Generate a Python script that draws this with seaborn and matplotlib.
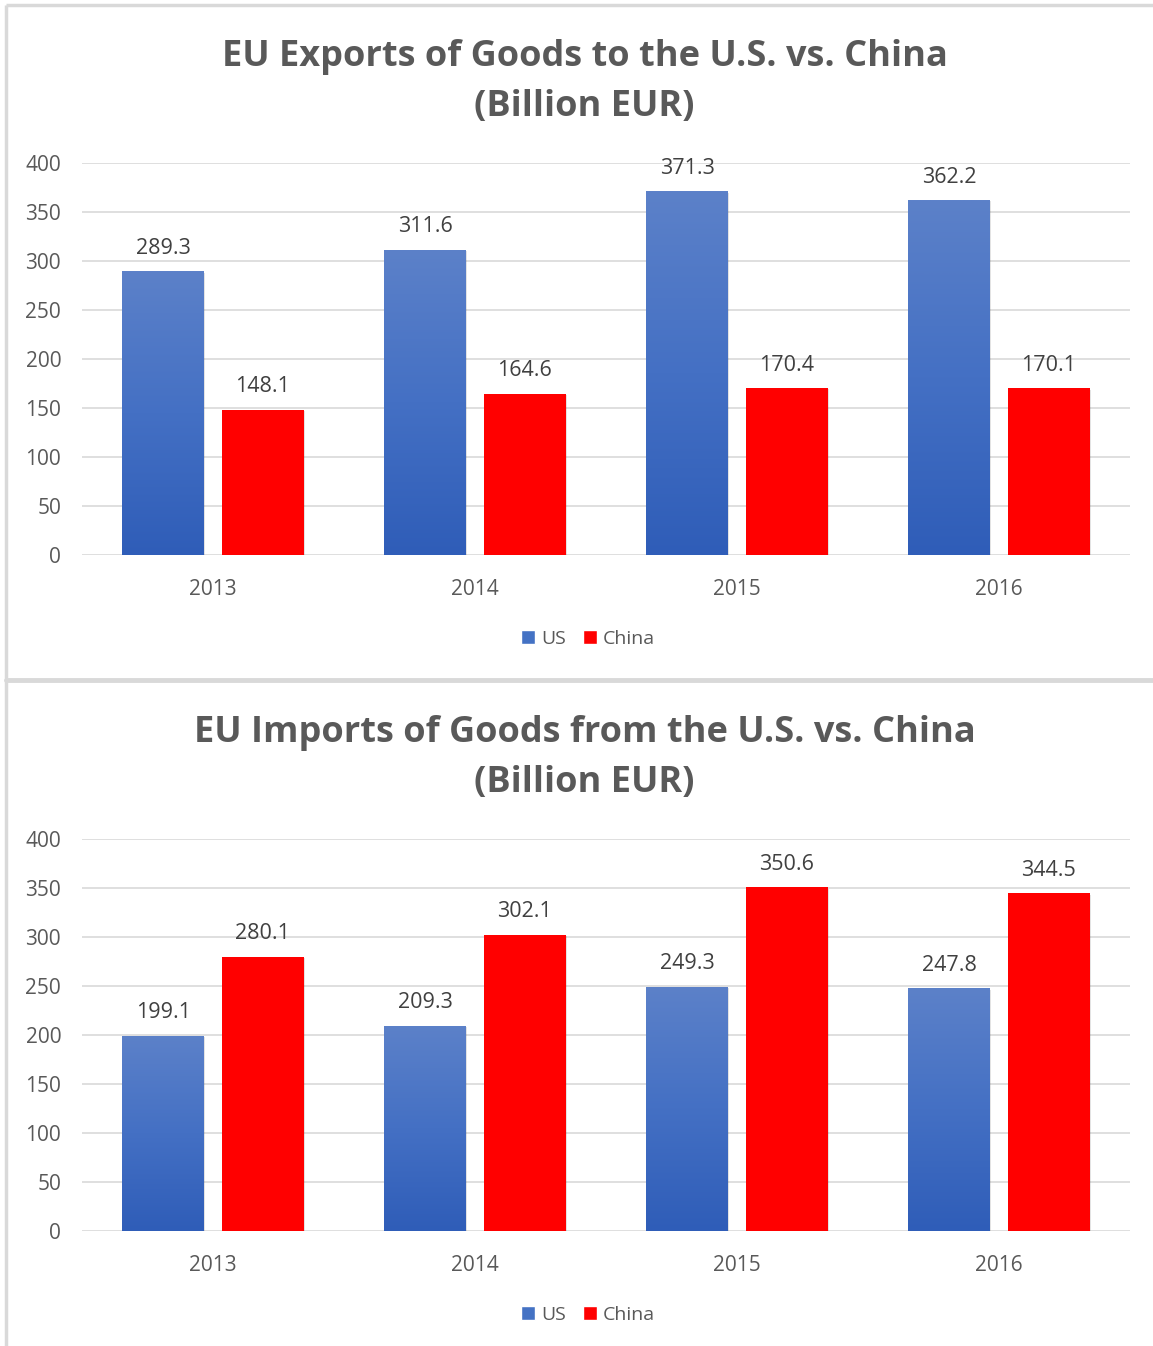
import numpy as np
import pandas as pd
import seaborn as sns
import matplotlib.pyplot as plt
from matplotlib.colors import LinearSegmentedColormap
from matplotlib.lines import Line2D
from matplotlib.patches import Patch
from matplotlib import patheffects as pe

# data
years = ["2013", "2014", "2015", "2016"]
partners = ["US", "China"]
exports_us = [289.3, 311.6, 371.3, 362.2]
exports_china = [148.1, 164.6, 170.4, 170.1]
imports_us = [199.1, 209.3, 249.3, 247.8]
imports_china = [280.1, 302.1, 350.6, 344.5]

titles = ["EU Exports of Goods to the U.S. vs. China\n(Billion EUR)",
          "EU Imports of Goods from the U.S. vs. China\n(Billion EUR)"]

US_COL = "#4472C4"
CN_COL = "#FF0000"
GRID = "#D9D9D9"
TXT = "#595959"

sns.set_theme(style="white")
plt.rcParams["font.family"] = ["Open Sans", "DejaVu Sans"]

W, H = 1153, 1346
fig = plt.figure(figsize=(W / 100, H / 100), dpi=100)

# dark at the bottom, lighter at the top
blue_grad = LinearSegmentedColormap.from_list("bl", ["#2F5DB8", "#4470C4", "#5C81C9"])


def long_frame(us, cn):
    return pd.DataFrame({
        "year": years * 2,
        "partner": ["US"] * len(years) + ["China"] * len(years),
        "value": list(us) + list(cn),
    })


def draw_panel(ax, df, title, title_y, legend_y):
    sns.barplot(data=df, x="year", y="value", hue="partner", hue_order=partners,
                palette={"US": US_COL, "China": CN_COL}, saturation=1,
                width=0.76, gap=0.18, legend=False, ax=ax, zorder=3, linewidth=0)

    shadow = [pe.SimplePatchShadow(offset=(1, -1), shadow_rgbFace="k", alpha=0.12),
              pe.Normal()]
    grad = np.linspace(0, 1, 256).reshape(-1, 1)
    for bar in ax.containers[0]:
        x0, w, h = bar.get_x(), bar.get_width(), bar.get_height()
        bar.set_path_effects(shadow)
        bar.set_facecolor("none")
        bar.set_linewidth(0)
        im = ax.imshow(grad, extent=[x0, x0 + w, 0, h], origin="lower",
                       aspect="auto", cmap=blue_grad, zorder=3.5)
        im.set_clip_path(bar)
    for bar in ax.containers[1]:
        bar.set_linewidth(0)
        bar.set_path_effects(shadow)

    for cont in ax.containers:
        ax.bar_label(cont, fmt="%.1f", padding=9, fontsize=15.5, color="#404040")

    ax.set_xlim(-0.5, 3.5)
    ax.set_ylim(0, 400)
    ax.set_yticks(range(0, 401, 50))
    ax.set_xlabel("")
    ax.set_ylabel("")
    ax.grid(axis="y", color=GRID, linewidth=1.2, zorder=0)
    ax.grid(axis="x", visible=False)
    ax.set_axisbelow(True)
    sns.despine(ax=ax, left=True, bottom=True)
    ax.tick_params(axis="y", length=0, pad=15, labelsize=15, labelcolor=TXT)
    ax.tick_params(axis="x", length=0, pad=17, labelsize=15, labelcolor=TXT)

    fig.text(0.507, title_y, title, ha="center", va="center", fontsize=26,
             fontweight="bold", color=TXT, linespacing=1.5)

    handles = [Patch(facecolor=US_COL, label="US"), Patch(facecolor=CN_COL, label="China")]
    fig.legend(handles=handles, loc="center", bbox_to_anchor=(0.51, legend_y), ncol=2,
               frameon=False, fontsize=14, labelcolor=TXT, handlelength=0.7,
               handleheight=0.7, handletextpad=0.3, columnspacing=0.9)


ax_l, ax_w = 82 / W, 1048 / W
ax_h = 392 / H
ax1 = fig.add_axes([ax_l, 1 - 555 / H, ax_w, ax_h])
ax2 = fig.add_axes([ax_l, 1 - 1231 / H, ax_w, ax_h])

draw_panel(ax1, long_frame(exports_us, exports_china), titles[0], 1 - 82 / H, 1 - 639 / H)
draw_panel(ax2, long_frame(imports_us, imports_china), titles[1], 1 - 758 / H, 1 - 1315 / H)

# panel borders
frame_kw = dict(color=GRID, linewidth=2.5, transform=fig.transFigure, solid_capstyle="butt")
fig.add_artist(Line2D([6 / W, 6 / W], [0, 1 - 5 / H], **frame_kw))
fig.add_artist(Line2D([6 / W, 1], [1 - 5 / H, 1 - 5 / H], **frame_kw))
fig.add_artist(Line2D([6 / W, 1], [1 - 680 / H, 1 - 680 / H],
                      color=GRID, linewidth=3.5, transform=fig.transFigure))

fig.savefig("out.png", dpi=100, facecolor="white")
